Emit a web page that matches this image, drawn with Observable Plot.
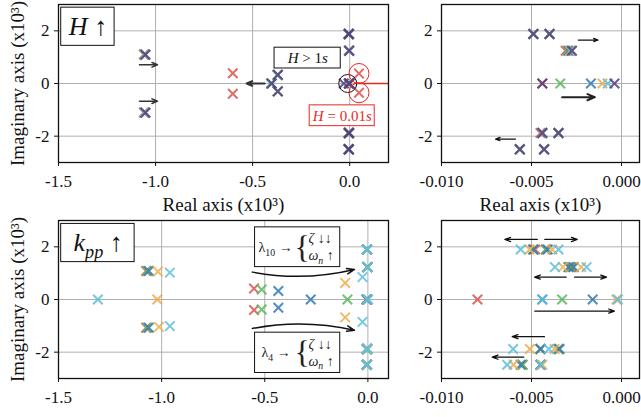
<!DOCTYPE html>
<html>
<head>
<meta charset="utf-8">
<script src="https://cdn.jsdelivr.net/npm/d3@7"></script>
<script src="https://cdn.jsdelivr.net/npm/@observablehq/plot@0.6"></script>
<style>
  html, body { margin: 0; padding: 0; background: #fff; }
  #fig { position: relative; width: 641px; height: 417px; overflow: hidden; background: #fff; }
  #fig > svg { position: absolute; font-family: "Liberation Serif", "Times New Roman", serif; }
  #fig > svg text { font-family: "Liberation Serif", "Times New Roman", serif; }
</style>
</head>
<body>
<div id="fig"></div>
<script>
// ---------------- axes ----------------
const yTicks = [-2, 0, 2];
const yDomain = [-3, 3];
const leftTicks = [-1.5, -1.0, -0.5, 0.0];
const rightTicks = [-0.010, -0.005, 0.000];
const topLeftDomain = [-1.5, 0.2];
const bottomLeftDomain = [-1.5, 0.1];
const rightDomain = [-0.010, 0.001];
const xAxisLabel = "Real axis (x10³)";
const yAxisLabel = "Imaginary axis (x10³)";

// ---------------- series ----------------
const seriesNames  = ["red", "green", "blue", "orange", "cyan", "purple"];
const seriesColors = ["#d9534f", "#5cb85c", "#337ab7", "#f0ad4e", "#5bc0de", "#563d7c"];

// ---- H ↑ (top row): poles, real / imaginary parts (x10^3) ----
const hRedRe    = [-1.060, -1.060, -0.602, -0.602, 0.048, 0.048, -0.0049, -0.0040, -0.0031, -0.0044, -0.0045, -0.0035, -0.00565, -0.0043];
const hRedIm    = [ 1.10,  -1.10,   0.39,  -0.39,  0.38, -0.35,   1.88,    1.88,    1.245,   0,      -1.88,   -1.88,   -2.50,    -2.50];
const hGreenRe  = [-1.057, -1.057, -0.405, -0.372, -0.372, -0.0049, -0.0040, -0.0030, -0.0034, -0.0044, -0.0035, -0.00565, -0.0043];
const hGreenIm  = [ 1.10,  -1.10,   0,      0.32,  -0.30,   1.88,    1.88,    1.245,   0,      -1.88,   -1.88,   -2.50,    -2.50];
const hBlueRe   = [-1.056, -1.056, -0.404, -0.371, -0.371, -0.0049, -0.0040, -0.00292, -0.0017, -0.0044, -0.0035, -0.00565, -0.0043];
const hBlueIm   = [ 1.10,  -1.10,   0,      0.32,  -0.30,   1.88,    1.88,    1.245,    0,      -1.88,   -1.88,   -2.50,    -2.50];
const hOrangeRe = [-1.055, -1.055, -0.403, -0.370, -0.370, -0.0049, -0.0040, -0.00285, -0.00106, -0.0044, -0.0035, -0.00565, -0.0043];
const hOrangeIm = [ 1.10,  -1.10,   0,      0.32,  -0.30,   1.88,    1.88,    1.245,    0,       -1.88,   -1.88,   -2.50,    -2.50];
const hCyanRe   = [-1.054, -1.054, -0.402, -0.370, -0.370, -0.0049, -0.0040, -0.0028, -0.00076, -0.0044, -0.0035, -0.00565, -0.0043];
const hCyanIm   = [ 1.10,  -1.10,   0,      0.32,  -0.30,   1.88,    1.88,    1.245,   0,       -1.88,   -1.88,   -2.50,    -2.50];
const hPurpleRe = [-1.052, -1.052, -0.402, -0.370, -0.370, -0.030, -0.0049, -0.0040, -0.00275, -0.0044, -0.00039, -0.0044, -0.0035, -0.00565, -0.0043];
const hPurpleIm = [ 1.09,  -1.11,   0,      0.33,  -0.30,   0,      1.88,    1.88,    1.245,    0,       0,       -1.88,   -1.88,   -2.50,    -2.50];

// ---- k_pp ↑ (bottom row): poles (x10^3) ----
const kRedRe    = [-1.075, -1.075, -0.552, -0.552, -0.0080, -0.0048, -0.0042, -0.00285, -0.0028, -0.0045, -0.0035, -0.0055, -0.0045];
const kRedIm    = [ 1.08,  -1.07,   0.415, -0.40,   0,       1.90,    1.90,    1.23,     1.23,   -1.88,   -1.88,   -2.48,   -2.48];
const kGreenRe  = [-1.070, -1.070, -0.515, -0.515, -0.099, -0.0033, -0.0049, -0.0042, -0.0029, -0.0027, -0.0045, -0.0035, -0.0055, -0.0045];
const kGreenIm  = [ 1.08,  -1.07,   0.377, -0.377,  0,      0,       1.90,    1.90,    1.23,    1.23,   -1.88,   -1.88,   -2.48,   -2.48];
const kBlueRe   = [-1.062, -1.062, -0.434, -0.434, -0.277, -0.0016, -0.0044, -0.0049, -0.0041, -0.00295, -0.00265, -0.0045, -0.00344, -0.0056, -0.0045];
const kBlueIm   = [ 1.08,  -1.07,   0.325, -0.316,  0,      0,       0,       1.90,    1.90,    1.23,     1.23,    -1.88,   -1.88,    -2.48,   -2.48];
const kOrangeRe = [-1.018, -1.013, -1.021, -0.110, -0.110, -0.00028, -0.0051, -0.00385, -0.00326, -0.00224, -0.00509, -0.00372, -0.0060, -0.0044];
const kOrangeIm = [ 1.06,  -1.04,   0,      0.63,  -0.68,   0,        1.90,    1.90,     1.23,     1.23,    -1.88,    -1.88,    -2.48,   -2.48];
const kCyanRe   = [-0.960, -0.960, -1.309, -0.026, -0.026, -0.0002, -0.0044, -0.0056, -0.0035, -0.0037, -0.00194, -0.00602, -0.00404, -0.00635, -0.0045];
const kCyanIm   = [ 1.02,  -1.01,   0,      0.85,  -0.85,   0,       0,       1.90,    1.90,    1.23,    1.23,    -1.88,    -1.88,    -2.48,    -2.48];
const kPurpleRe = [];
const kPurpleIm = [];

// ---------------- annotations (data coordinates) ----------------
// top-left
const hTitleBox   = [[-1.486, -1.211, 2.88, 1.43]];
const hTitleText  = [[-1.348, 2.15, "*H* ↑"]];
const hBigBox     = [[-0.387, -0.046, 1.36, 0.57]];
const hBigText    = [[-0.216, 0.96, "*H* > 1*s*"]];
const hSmallBox   = [[-0.206, 0.129, -0.83, -1.62]];
const hSmallText  = [[-0.038, -1.23, "*H* = 0.01*s*"]];
const hBlackRing  = [[-0.010, 0]];
const hRedRings   = [[0.048, 0.38], [0.048, -0.35]];
const hRedLink    = [[0.022, 0, 0.2, 0]];
const hLeftArrowsThin  = [[-1.083, 0.71, -0.99, 0.71], [-1.083, -0.67, -0.99, -0.67]];
const hLeftArrowsThick = [[-0.438, 0, -0.531, 0]];
// top-right
const hRightArrowsThin  = [[-0.0024, 1.65, -0.0013, 1.65], [-0.00589, -2.11, -0.0070, -2.11]];
const hRightArrowsThick = [[-0.0033, -0.52, -0.00148, -0.52]];
// bottom-left
const kTitleBox   = [[-1.487, -1.131, 2.87, 1.42]];
const kTitleText  = [[-1.308, 2.14, "*k*_{*pp*} ↑"]];
const kNoteBoxes  = [[-0.547, -0.134, 2.74, 1.23], [-0.547, -0.134, -1.26, -2.79]];
const kNoteHeads  = [[-0.530, 1.97, "λ_{10} →"], [-0.516, -2.03, "λ_{4} →"]];
const kNoteBraces = [[-0.318, 1.97, "{"], [-0.318, -2.03, "{"]];
const kNoteLines  = [[-0.288, 2.30, "*ζ* ↓↓"], [-0.288, 1.67, "*ω*_{*n*} ↑"], [-0.288, -1.70, "*ζ* ↓↓"], [-0.288, -2.35, "*ω*_{*n*} ↑"]];
const kCurveUp    = [[-0.560, 1.04, -0.065, 1.14]];
const kCurveDown  = [[-0.560, -1.10, -0.065, -1.17]];
// bottom-right
const kRightArrows = [
  [-0.00468, 2.28, -0.00648, 2.28], [-0.00426, 2.28, -0.00246, 2.28],
  [-0.00307, 0.85, -0.00483, 0.85], [-0.00261, 0.85, -0.00083, 0.85],
  [-0.00482, -0.44, -0.00039, -0.44],
  [-0.00428, -1.41, -0.00607, -1.41],
  [-0.00543, -2.19, -0.00718, -2.19]
];

// ---------------- build tables ----------------
function table(list) {
  return list.flatMap(([s, re, im]) => re.map((r, i) => ({s, re: r, im: im[i]})));
}
const hPoles = table([["red", hRedRe, hRedIm], ["green", hGreenRe, hGreenIm], ["blue", hBlueRe, hBlueIm],
                      ["orange", hOrangeRe, hOrangeIm], ["cyan", hCyanRe, hCyanIm], ["purple", hPurpleRe, hPurpleIm]]);
const kPoles = table([["red", kRedRe, kRedIm], ["green", kGreenRe, kGreenIm], ["blue", kBlueRe, kBlueIm],
                      ["orange", kOrangeRe, kOrangeIm], ["cyan", kCyanRe, kCyanIm], ["purple", kPurpleRe, kPurpleIm]]);

// ---------------- helpers ----------------
const box = (data, stroke) => Plot.rect(data, {x1: d => d[0], x2: d => d[1], y1: d => d[2], y2: d => d[3], fill: "white", stroke, strokeWidth: 1});
const label = (data, o) => Plot.text(data, {x: d => d[0], y: d => d[1], text: d => d[2], ...o});
const arrows = (data, o) => Plot.arrow(data, {x1: d => d[0], y1: d => d[1], x2: d => d[2], y2: d => d[3], ...o});

function rich(svg) {
  const ns = "http://www.w3.org/2000/svg";
  svg.querySelectorAll("text").forEach(t => {
    const s = t.textContent;
    if (!/[*_]/.test(s)) return;
    const holder = t.closest("[font-size]");
    const fs = holder ? parseFloat(holder.getAttribute("font-size")) : 17;
    const segs = [];
    let it = false, sub = false, buf = "";
    const flush = () => { if (buf) segs.push({text: buf, it, sub}); buf = ""; };
    for (let i = 0; i < s.length; i++) {
      const c = s[i];
      if (c === "*") { flush(); it = !it; }
      else if (c === "_" && s[i + 1] === "{") { flush(); sub = true; i++; }
      else if (c === "}" && sub) { flush(); sub = false; }
      else buf += c;
    }
    flush();
    while (t.firstChild) t.removeChild(t.firstChild);
    let prevSub = false;
    segs.forEach(g => {
      const ts = document.createElementNS(ns, "tspan");
      ts.textContent = g.text;
      if (g.it) ts.setAttribute("font-style", "italic");
      if (g.sub) ts.setAttribute("font-size", (fs * 0.7).toFixed(1));
      if (g.sub && !prevSub) ts.setAttribute("dy", (fs * 0.25).toFixed(1));
      if (!g.sub && prevSub) ts.setAttribute("dy", (-fs * 0.25).toFixed(1));
      prevSub = g.sub;
      t.appendChild(ts);
    });
  });
}

function makePanel(cfg) {
  const pts = cfg.poles.filter(p => p.re >= cfg.domain[0] && p.re <= cfg.domain[1]);
  const marks = [
    Plot.ruleX(cfg.xTicks, {stroke: "#b0b0b0", strokeWidth: 1}),
    Plot.ruleY(yTicks, {stroke: "#b0b0b0", strokeWidth: 1}),
    ...(cfg.under || [])
  ];
  seriesNames.forEach((name, i) => {
    marks.push(Plot.dot(pts.filter(p => p.s === name), {
      x: "re", y: "im", symbol: "times", r: 4.4,
      stroke: seriesColors[i], strokeWidth: 2, strokeOpacity: 0.85
    }));
  });
  marks.push(...(cfg.over || []));
  marks.push(Plot.frame({stroke: "#111", strokeWidth: 1.3}));
  if (cfg.xLabel) marks.push(Plot.text([cfg.xLabel], {text: d => d, frameAnchor: "bottom", textAnchor: "middle", lineAnchor: "middle", dy: 42, fontSize: 19, fill: "#111"}));
  if (cfg.yLabel) marks.push(Plot.text([cfg.yLabel], {text: d => d, frameAnchor: "left", textAnchor: "middle", lineAnchor: "middle", dx: -41, rotate: -90, fontSize: 19, fill: "#111"}));
  const svg = Plot.plot({
    width: cfg.width, height: cfg.height,
    marginLeft: cfg.ml, marginRight: cfg.mr, marginTop: cfg.mt, marginBottom: cfg.mb,
    style: {fontFamily: '"Liberation Serif", serif', fontSize: "17px", background: "transparent", color: "#111", overflow: "visible"},
    x: {domain: cfg.domain, ticks: cfg.xTicks, tickFormat: cfg.xFmt, tickSize: 4, tickPadding: 8, label: null},
    y: {domain: yDomain, ticks: yTicks, tickFormat: d => String(d), tickSize: 4, tickPadding: 5, label: null},
    marks
  });
  svg.style.left = cfg.left + "px";
  svg.style.top = cfg.top + "px";
  rich(svg);
  document.getElementById("fig").appendChild(svg);
}

const fmtLeft = d => d.toFixed(1);
const fmtRight = d => d.toFixed(3);

// top-left
makePanel({
  poles: hPoles, domain: topLeftDomain, xTicks: leftTicks, xFmt: fmtLeft,
  xLabel: xAxisLabel, yLabel: yAxisLabel,
  left: 0, top: 0, width: 400, height: 212, ml: 58, mr: 12, mt: 4, mb: 50,
  under: [
    arrows(hLeftArrowsThin, {stroke: "#333", strokeWidth: 1.5, headLength: 6, headAngle: 45}),
    arrows(hLeftArrowsThick, {stroke: "#333", strokeWidth: 2, headLength: 6, headAngle: 45}),
    Plot.link(hRedLink, {x1: d => d[0], y1: d => d[1], x2: d => d[2], y2: d => d[3], stroke: "#e8281e", strokeWidth: 1.5})
  ],
  over: [
    Plot.dot(hBlackRing, {x: d => d[0], y: d => d[1], r: 9, stroke: "#111", strokeWidth: 1, fill: "none"}),
    Plot.dot(hRedRings, {x: d => d[0], y: d => d[1], r: 10, stroke: "#e8281e", strokeWidth: 1, fill: "none"}),
    box(hTitleBox, "#111"),
    label(hTitleText, {fontSize: 26, fill: "#111"}),
    box(hBigBox, "#111"),
    label(hBigText, {fontSize: 15, fill: "#111"}),
    box(hSmallBox, "#e8281e"),
    label(hSmallText, {fontSize: 15, fill: "#e8281e"})
  ]
});

// top-right
makePanel({
  poles: hPoles, domain: rightDomain, xTicks: rightTicks, xFmt: fmtRight,
  xLabel: xAxisLabel, yLabel: null,
  left: 400, top: 0, width: 241, height: 212, ml: 41, mr: 2, mt: 4, mb: 50,
  over: [
    arrows(hRightArrowsThin, {stroke: "#111", strokeWidth: 1.2, headLength: 6, headAngle: 40}),
    arrows(hRightArrowsThick, {stroke: "#222", strokeWidth: 2, headLength: 6, headAngle: 45})
  ]
});

// bottom-left
makePanel({
  poles: kPoles, domain: bottomLeftDomain, xTicks: leftTicks, xFmt: fmtLeft,
  xLabel: null, yLabel: yAxisLabel,
  left: 0, top: 212, width: 400, height: 205, ml: 58, mr: 12, mt: 8, mb: 39,
  over: [
    box(kTitleBox, "#111"),
    label(kTitleText, {fontSize: 26, fill: "#111"}),
    box(kNoteBoxes, "#111"),
    label(kNoteHeads, {fontSize: 14, fill: "#222", textAnchor: "start"}),
    label(kNoteBraces, {fontSize: 32, fill: "#222"}),
    label(kNoteLines, {fontSize: 14, fill: "#222", textAnchor: "start"}),
    arrows(kCurveUp, {stroke: "#111", strokeWidth: 1.5, headLength: 8, headAngle: 40, bend: -12}),
    arrows(kCurveDown, {stroke: "#111", strokeWidth: 1.5, headLength: 8, headAngle: 40, bend: 12})
  ]
});

// bottom-right
makePanel({
  poles: kPoles, domain: rightDomain, xTicks: rightTicks, xFmt: fmtRight,
  xLabel: null, yLabel: null,
  left: 400, top: 212, width: 241, height: 205, ml: 41, mr: 2, mt: 8, mb: 39,
  over: [
    arrows(kRightArrows, {stroke: "#111", strokeWidth: 1.3, headLength: 7, headAngle: 40})
  ]
});
</script>
</body>
</html>
